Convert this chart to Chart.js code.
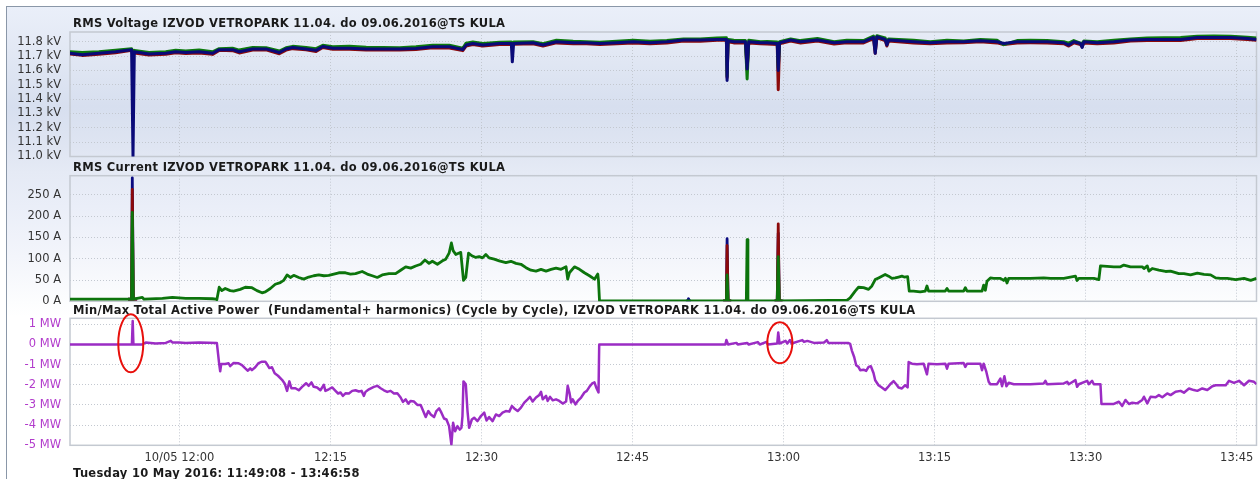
<!DOCTYPE html>
<html><head><meta charset="utf-8">
<script src="https://cdn.jsdelivr.net/npm/chart.js@4.4.1/dist/chart.umd.min.js"></script>
<style>
html,body{margin:0;padding:0;}
body{width:1260px;height:479px;overflow:hidden;position:relative;background:#fff;font-family:"DejaVu Sans",Verdana,sans-serif;}
#bg{position:absolute;left:6px;top:6px;width:1254px;height:473px;border-left:1.5px solid #8a97a8;border-top:1.5px solid #8a97a8;
background:linear-gradient(to bottom,#eaeff9 0px,#e2e8f4 45px,#d7dfef 100px,#dfe5f2 140px,#e5eaf5 165px,#eaeef8 200px,#f3f5fb 250px,#fcfdfe 295px,#ffffff 310px,#ffffff 100%);}
canvas{position:absolute;left:0;}
.ttl{position:absolute;left:73px;font-weight:bold;font-size:11.5px;letter-spacing:0.3px;color:#1a1a1a;white-space:pre;line-height:13px;}
</style>
</head><body>
<div id="bg"></div>
<canvas id="c1" width="1260" height="173" style="top:0px"></canvas>
<canvas id="c2" width="1260" height="168" style="top:150px"></canvas>
<canvas id="c3" width="1260" height="184" style="top:295px"></canvas>
<div class="ttl" style="top:17px">RMS Voltage IZVOD VETROPARK 11.04. do 09.06.2016@TS KULA</div>
<div class="ttl" style="top:160.5px">RMS Current IZVOD VETROPARK 11.04. do 09.06.2016@TS KULA</div>
<div class="ttl" style="top:303.5px">Min/Max Total Active Power  (Fundamental+ harmonics) (Cycle by Cycle), IZVOD VETROPARK 11.04. do 09.06.2016@TS KULA</div>
<div class="ttl" style="top:466.5px">Tuesday 10 May 2016: 11:49:08 - 13:46:58</div>
<script>
// time in minutes since midnight (10 May 2016)
const tStart = 709.133, tEnd = 826.967;
const xTickVals = [720,735,750,765,780,795,810,825];
const xTickLabels = ['10/05 12:00','12:15','12:30','12:45','13:00','13:15','13:30','13:45'];
const voltTicks = [11.0,11.1,11.2,11.3,11.4,11.5,11.6,11.7,11.8];
const curTicks = [0,50,100,150,200,250];
const powTicks = [-5,-4,-3,-2,-1,0,1];

const voltT = [709.13,710.34,712.0,713.66,715.25,715.39,715.52,716.98,718.64,719.63,720.63,721.96,723.29,723.95,725.28,725.94,727.27,728.6,729.92,730.59,731.25,732.58,733.57,734.24,735.23,736.89,738.55,740.21,741.87,743.49,745.15,746.81,748.14,748.47,749.14,750.13,751.79,752.96,753.06,753.19,755.12,756.11,757.44,759.1,760.43,761.76,763.42,765.08,766.74,768.41,770.07,771.73,773.39,774.32,774.39,774.49,775.05,776.21,776.38,776.54,777.71,778.37,779.37,779.47,779.6,780.7,781.69,783.36,785.02,786.28,787.94,788.93,789.1,789.27,790.09,790.26,790.43,792.91,794.57,796.23,797.88,799.54,801.2,801.86,803.19,804.51,806.17,807.83,808.32,808.82,809.48,809.65,809.82,811.14,812.8,814.46,816.11,817.77,819.43,821.09,822.74,824.4,826.06,826.97];
const voltL3 = [11.72,11.71,11.72,11.73,11.745,11.0,11.73,11.715,11.72,11.73,11.725,11.73,11.72,11.745,11.745,11.73,11.75,11.75,11.725,11.75,11.76,11.75,11.74,11.767,11.755,11.755,11.75,11.75,11.75,11.753,11.765,11.765,11.746,11.777,11.788,11.777,11.788,11.788,11.66,11.788,11.793,11.777,11.8,11.793,11.793,11.788,11.793,11.8,11.793,11.8,11.812,11.812,11.816,11.816,11.53,11.807,11.8,11.8,11.61,11.8,11.793,11.793,11.788,11.6,11.793,11.812,11.8,11.812,11.793,11.8,11.8,11.83,11.72,11.835,11.816,11.777,11.812,11.8,11.793,11.8,11.8,11.807,11.8,11.788,11.8,11.8,11.8,11.793,11.777,11.8,11.788,11.76,11.8,11.793,11.8,11.812,11.816,11.816,11.816,11.83,11.83,11.83,11.823,11.816];
const voltL2 = [11.73,11.725,11.73,11.74,11.752,11.72,11.74,11.725,11.73,11.74,11.735,11.742,11.73,11.752,11.755,11.742,11.76,11.758,11.735,11.758,11.768,11.76,11.752,11.775,11.765,11.768,11.762,11.76,11.758,11.765,11.775,11.775,11.755,11.79,11.798,11.788,11.796,11.798,11.78,11.798,11.8,11.786,11.81,11.803,11.8,11.796,11.803,11.81,11.803,11.808,11.82,11.82,11.826,11.828,11.56,11.816,11.81,11.808,11.54,11.81,11.8,11.802,11.798,11.62,11.8,11.82,11.808,11.822,11.8,11.81,11.808,11.84,11.8,11.842,11.826,11.79,11.82,11.81,11.8,11.81,11.806,11.816,11.81,11.78,11.808,11.81,11.808,11.8,11.79,11.808,11.79,11.785,11.806,11.8,11.81,11.82,11.826,11.828,11.83,11.838,11.84,11.838,11.832,11.826];
const voltL1 = [11.714,11.705,11.713,11.724,11.74,11.70,11.722,11.708,11.712,11.724,11.718,11.722,11.712,11.74,11.738,11.722,11.742,11.744,11.716,11.742,11.752,11.744,11.732,11.76,11.748,11.748,11.742,11.743,11.742,11.746,11.758,11.757,11.738,11.77,11.78,11.77,11.78,11.78,11.78,11.782,11.786,11.77,11.792,11.786,11.786,11.78,11.786,11.792,11.786,11.792,11.805,11.804,11.81,11.81,11.55,11.8,11.792,11.793,11.60,11.792,11.786,11.785,11.78,11.466,11.785,11.805,11.792,11.805,11.785,11.793,11.792,11.822,11.72,11.828,11.808,11.77,11.805,11.792,11.786,11.792,11.793,11.8,11.792,11.78,11.792,11.793,11.792,11.786,11.77,11.792,11.78,11.765,11.792,11.786,11.792,11.805,11.808,11.809,11.808,11.822,11.823,11.822,11.816,11.81];

const curT = [709.13,715.15,715.25,715.32,715.42,716.32,716.48,718.31,719.3,720.63,721.96,723.29,723.62,723.72,723.95,724.21,724.55,725.04,725.38,726.04,726.54,727.2,727.7,728.2,728.53,729.03,729.52,730.02,730.35,730.69,731.02,731.35,731.85,732.34,732.84,733.34,733.84,734.34,734.83,735.33,735.83,736.49,736.99,737.49,738.15,738.65,739.15,739.65,740.14,740.81,741.47,741.97,742.47,742.97,743.46,743.96,744.39,744.79,745.12,745.62,746.12,746.45,746.78,747.01,747.18,747.45,747.94,748.21,748.44,748.71,749.04,749.44,749.77,750.1,750.43,750.76,751.26,751.76,752.42,752.92,753.42,753.92,754.42,754.91,755.41,755.91,756.41,756.91,757.4,757.9,758.4,758.56,758.73,759.23,759.73,760.22,760.72,761.22,761.55,761.62,761.72,774.32,774.39,774.49,776.3,776.38,776.46,779.37,779.47,779.57,784.63,786.28,786.61,787.11,787.44,787.94,788.44,788.77,789.1,789.43,789.76,790.09,790.43,790.76,791.09,791.42,791.75,791.98,792.32,792.48,792.91,793.57,794.07,794.24,794.4,796.06,796.23,796.39,797.88,798.05,798.22,799.71,799.87,800.04,800.2,800.54,800.87,801.53,801.86,802.03,802.19,802.36,804.51,805.84,806.5,807.83,808.99,809.15,809.32,810.81,811.31,811.47,812.8,813.46,813.79,814.46,815.62,815.79,816.12,816.28,816.61,817.27,817.94,818.43,819.26,819.76,820.42,821.09,821.75,822.41,822.91,823.41,824.07,824.9,825.73,826.39,826.97];
const curL2 = [5,5,5,209,5,9,5,7,9,7,7,6,5,4,33,25,30,25,24,28,33,32,25,20,22,30,40,44,49,62,56,61,56,52,57,60,62,60,61,64,67,67,64,65,70,64,60,56,62,65,65,73,81,78,83,87,97,89,94,87,95,99,113,137,119,110,115,49,56,113,107,103,105,102,110,102,99,95,91,94,89,87,79,73,71,75,71,75,78,75,81,52,67,81,75,67,60,52,64,48,1,1,62,1,1,145,1,1,105,1,2,2,8,24,33,32,28,36,51,55,59,63,59,54,55,57,59,57,58,24,24,22,24,36,24,24,30,24,24,32,24,24,38,26,47,55,54,54,49,54,43,54,54,55,54,54,59,49,54,54,51,83,81,81,85,81,81,77,83,71,77,73,70,71,65,65,62,66,63,62,55,54,54,51,54,49,54];
const curL1T = [714.9,715.25,715.32,715.42,715.8,715.81,774.0,774.32,774.39,774.49,774.8,774.81,779.1,779.37,779.47,779.57,779.9];
const curL1 = [5,5,263,5,5,null,1,1,131,1,1,null,1,1,182,1,1];
const curL3T = [714.9,715.25,715.32,715.42,715.8,715.81,770.3,770.5,770.56,770.62,770.8,770.81,774.0,774.32,774.39,774.49,774.8,774.81,779.1,779.37,779.47,779.57,779.9];
const curL3 = [5,5,290,5,5,null,1,1,6,1,1,null,1,1,147,1,1,null,1,1,160,1,1];

const powT = [709.13,715.28,715.36,715.43,716.32,716.65,717.64,718.64,719.14,719.3,719.97,720.63,721.96,723.72,723.95,724.05,724.15,724.55,724.88,725.04,725.38,725.87,726.21,726.54,726.8,727.03,727.2,727.53,727.86,728.2,728.53,728.69,728.93,729.19,729.46,729.79,730.19,730.45,730.69,730.92,731.12,731.52,731.85,732.18,732.58,732.84,733.11,733.34,733.67,734.0,734.34,734.5,734.83,735.17,735.5,735.76,736.0,736.23,736.49,736.83,737.16,737.49,737.82,738.09,738.32,738.48,738.82,739.31,739.65,739.98,740.31,740.64,740.97,741.31,741.64,741.97,742.2,742.47,742.73,742.97,743.3,743.63,743.96,744.19,744.46,744.72,744.96,745.29,745.52,745.79,746.02,746.28,746.52,746.78,747.01,747.18,747.38,747.61,747.84,748.01,748.11,748.21,748.44,748.61,748.77,749.04,749.27,749.6,749.94,750.27,750.5,750.76,751.1,751.43,751.76,752.09,752.42,752.76,753.02,753.25,753.59,753.92,754.25,754.58,754.81,755.08,755.41,755.74,755.91,756.08,756.41,756.57,756.81,757.07,757.4,757.73,758.07,758.4,758.56,758.73,758.9,759.06,759.33,759.56,759.89,760.22,760.46,760.72,760.99,761.22,761.39,761.62,761.69,774.22,774.32,774.49,775.32,775.45,776.38,776.54,777.44,777.64,778.31,778.44,779.37,779.47,779.6,780.2,780.37,780.63,780.8,781.86,782.03,782.36,783.02,784.02,784.29,784.45,785.68,786.45,786.61,786.78,787.01,787.21,787.44,787.61,787.94,788.2,788.44,788.67,788.93,789.1,789.43,789.76,790.09,790.33,790.59,790.92,791.19,791.42,791.75,792.08,792.32,792.42,792.75,793.24,793.91,794.24,794.4,795.23,796.06,796.23,796.39,797.88,798.05,798.22,799.54,799.71,799.87,800.14,800.37,800.54,801.2,801.53,801.7,801.93,802.13,802.36,802.86,804.51,805.84,806.0,806.17,807.83,808.16,808.32,808.99,809.15,809.32,810.15,810.31,810.64,810.81,811.47,811.57,812.8,813.3,813.63,813.96,814.3,814.63,815.12,815.62,815.79,816.12,816.45,816.95,817.27,817.61,818.1,818.43,818.93,819.43,819.76,820.26,820.75,821.09,821.58,822.08,822.58,822.91,823.41,823.91,824.24,824.73,825.23,825.73,826.22,826.72,826.97];
const powV = [0,0,1.17,0,0,0.1,0.05,0.08,0.18,0.1,0.1,0.07,0.1,0.07,-0.97,-1.33,-0.97,-0.97,-0.93,-1.07,-0.92,-0.93,-1.02,-1.18,-1.3,-1.18,-1.27,-1.13,-0.92,-0.85,-0.85,-0.97,-1.17,-1.13,-1.43,-1.55,-1.75,-1.93,-2.3,-1.83,-2.17,-2.17,-2.27,-2.1,-1.92,-2.05,-1.88,-2.1,-2.13,-2.27,-2.0,-2.3,-2.22,-2.13,-2.3,-2.43,-2.38,-2.55,-2.42,-2.43,-2.3,-2.27,-2.33,-2.3,-2.55,-2.35,-2.22,-2.1,-2.05,-2.17,-2.27,-2.35,-2.3,-2.43,-2.42,-2.63,-2.85,-2.72,-2.93,-2.8,-2.83,-3.0,-3.0,-3.27,-3.6,-3.3,-3.47,-3.6,-3.3,-3.17,-3.38,-3.67,-3.72,-4.05,-4.97,-3.88,-4.3,-4.05,-4.22,-4.13,-3.55,-1.83,-1.97,-3.3,-4.13,-3.72,-3.63,-3.8,-3.55,-3.38,-3.77,-3.6,-3.8,-3.47,-3.55,-3.38,-3.3,-3.33,-3.05,-3.17,-3.3,-3.13,-2.88,-2.72,-2.6,-2.83,-2.63,-2.5,-2.35,-2.72,-2.55,-2.8,-2.6,-2.77,-2.72,-2.8,-2.93,-2.83,-2.05,-2.38,-2.88,-2.72,-2.97,-2.8,-2.63,-2.38,-2.3,-2.1,-1.93,-1.88,-2.13,-2.38,0.0,0,0.22,0,0.08,0,0.08,0,0.12,0,0.13,0,0.05,0.6,0.05,0.18,0.05,0.22,0.05,0.22,0.13,0.18,0.08,0.1,0.22,0.08,0.08,0.07,0.03,-0.3,-0.62,-1.03,-1.11,-1.28,-1.25,-1.31,-1.11,-1.08,-1.41,-1.77,-2.02,-2.13,-2.26,-2.13,-1.97,-1.82,-1.97,-2.13,-2.18,-2.02,-2.13,-0.87,-0.95,-0.98,-0.95,-1.48,-0.95,-0.98,-0.95,-1.2,-0.95,-0.92,-1.11,-0.95,-0.95,-1.28,-0.95,-1.36,-1.85,-1.97,-1.97,-1.69,-2.07,-1.57,-2.07,-1.9,-1.97,-1.97,-1.93,-1.8,-1.97,-1.93,-1.85,-1.97,-1.77,-2.1,-1.97,-1.8,-1.97,-1.8,-1.97,-1.97,-2.95,-2.95,-2.84,-3.05,-2.75,-2.95,-2.89,-2.92,-2.75,-2.59,-2.92,-2.59,-2.62,-2.51,-2.62,-2.43,-2.51,-2.34,-2.3,-2.39,-2.18,-2.26,-2.3,-2.18,-2.26,-2.07,-2.02,-2.02,-2.02,-1.8,-1.9,-1.8,-2.02,-1.8,-1.85,-1.97];

// hand-drawn red ellipse annotations (time, MW)
const markT = [715.17, 779.63];
const markV = [0.06, 0.09];
const markRy = [29, 20.5];

function pts(t, v){ return t.map((x,i)=>({x:x, y:v[i]})); }

const framePlugin = {
  id:'frame',
  beforeDatasetsDraw(chart){
    const a = chart.chartArea, c = chart.ctx;
    c.save(); c.strokeStyle = '#c4c9d1'; c.lineWidth = 1.5;
    c.strokeRect(a.left, a.top, a.right-a.left, a.bottom-a.top);
    c.restore();
  }
};
const markPlugin = {
  id:'marks',
  afterDraw(chart){
    const c = chart.ctx, xs = chart.scales.x, ys = chart.scales.y;
    c.save(); c.strokeStyle = '#e8100c'; c.lineWidth = 2;
    markT.forEach((t,i)=>{
      c.beginPath();
      c.ellipse(xs.getPixelForValue(t), ys.getPixelForValue(markV[i]), 12.5, markRy[i], 0, 0, Math.PI*2);
      c.stroke();
    });
    c.restore();
  }
};

const gridCol = '#c3c8d0';
const tickFont = {family:'"DejaVu Sans", Verdana, sans-serif', size:11.5};
function xScale(show, h){
  return {
    type:'linear', min:tStart, max:tEnd,
    afterBuildTicks: s => { s.ticks = xTickVals.map(v=>({value:v})); },
    afterFit: s => { s.height = h; },
    grid:{color:gridCol, drawTicks:false, lineWidth:1},
    border:{display:false, dash:[1,2]},
    ticks:{display:show, autoSkip:false, maxRotation:0, padding:6, color:'#333', font:tickFont,
      callback:(v,i)=>xTickLabels[i]}
  };
}
function yScale(min, max, ticks, unit, color, dec){
  return {
    type:'linear', min:min, max:max,
    afterBuildTicks: s => { s.ticks = ticks.map(v=>({value:v})); },
    afterFit: s => { s.width = 70; },
    grid:{color:gridCol, drawTicks:false, lineWidth:1},
    border:{display:false, dash:[1,2]},
    ticks:{padding:9, color:color, autoSkip:false, font:tickFont,
      callback:v => (dec ? v.toFixed(dec) : String(v)) + ' ' + unit}
  };
}
function ds(data, color, order, w){
  return {data:data, borderColor:color, backgroundColor:color, borderWidth:w||2.5, pointRadius:0,
    tension:0, order:order, spanGaps:false, borderJoinStyle:'round', fill:false};
}
const common = {
  responsive:false, animation:false, events:[],
  plugins:{legend:{display:false}, tooltip:{enabled:false}, title:{display:false}},
};

new Chart(document.getElementById('c1'), {
  type:'line',
  data:{datasets:[
    ds(pts(voltT, voltL3), '#0a0a78', 0, 3),
    ds(pts(voltT, voltL2), '#0c7a0c', 1, 3),
    ds(pts(voltT, voltL1), '#8c0a0a', 2, 3)
  ]},
  options:Object.assign({}, common, {
    layout:{padding:{left:0, right:3.5, top:32, bottom:0}},
    scales:{x:xScale(false, 16.5), y:yScale(11.0, 11.868, voltTicks, 'kV', '#333', 1)}
  }),
  plugins:[framePlugin]
});

new Chart(document.getElementById('c2'), {
  type:'line',
  data:{datasets:[
    ds(pts(curT, curL2), '#0c740c', 0, 2.8),
    ds(pts(curL1T, curL1), '#8c0a0a', 1, 2.8),
    ds(pts(curL3T, curL3), '#0a0a80', 2, 2.8)
  ]},
  options:Object.assign({}, common, {
    layout:{padding:{left:0, right:3.5, top:25.7, bottom:0}},
    scales:{x:xScale(false, 16.7), y:yScale(0, 295, curTicks, 'A', '#333', 0)}
  }),
  plugins:[framePlugin]
});

new Chart(document.getElementById('c3'), {
  type:'line',
  data:{datasets:[
    ds(pts(powT, powV), '#9b2cc4', 0, 2.5)
  ]},
  options:Object.assign({}, common, {
    layout:{padding:{left:0, right:3.5, top:23.3, bottom:13.7}},
    scales:{x:xScale(true, 20), y:yScale(-5, 1.3, powTicks, 'MW', '#b23ccc', 0)}
  }),
  plugins:[framePlugin, markPlugin]
});
</script>
</body></html>
